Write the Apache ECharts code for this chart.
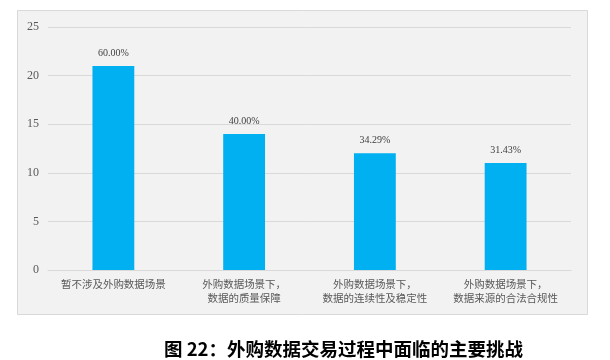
<!DOCTYPE html>
<html><head><meta charset="utf-8">
<script src="https://cdn.jsdelivr.net/npm/echarts@6/dist/echarts.min.js"></script>
<style>html,body{margin:0;padding:0;background:#fff}#c{width:610px;height:360px}</style>
</head><body><div id="c"></div>
<script>
const categories = ['暂不涉及外购数据场景', '外购数据场景下，\n数据的质量保障', '外购数据场景下，\n数据的连续性及稳定性', '外购数据场景下，\n数据来源的合法合规性'];
const values = [21, 14, 12, 11];
const percentLabels = ['60.00%', '40.00%', '34.29%', '31.43%'];
const yTicks = [0, 5, 10, 15, 20, 25];
const titleText = '图 22：外购数据交易过程中面临的主要挑战';

const chart = echarts.init(document.getElementById('c'));
chart.setOption({
  animation: false,
  backgroundColor: '#ffffff',
  graphic: [{
    type: 'rect', left: 17, top: 10, z: -10,
    shape: { width: 570, height: 304 },
    style: { fill: '#f2f2f2', stroke: '#d9d9d9', lineWidth: 1 }
  }],
  title: {
    text: titleText, left: 159, top: 334,
    textStyle: { fontFamily: 'Noto Sans CJK SC', fontWeight: 'bold', fontSize: 18.5, color: '#000', lineHeight: 20 }
  },
  grid: { left: 48, right: 39, top: 27, bottom: 90 },
  xAxis: {
    type: 'category', data: categories,
    axisLine: { lineStyle: { color: '#d9d9d9' } },
    axisTick: { show: false },
    axisLabel: { color: '#595959', fontSize: 10.5, fontFamily: 'Noto Sans CJK SC', lineHeight: 14, margin: 7, interval: 0 }
  },
  yAxis: {
    type: 'value', min: yTicks[0], max: yTicks[yTicks.length - 1], interval: 5,
    axisLine: { show: false }, axisTick: { show: false },
    splitLine: { lineStyle: { color: '#d9d9d9' } },
    axisLabel: { color: '#595959', fontSize: 12, fontFamily: 'Liberation Serif', margin: 9 }
  },
  series: [{
    type: 'bar', data: values, barWidth: '32%',
    itemStyle: { color: '#00b0f0' },
    label: {
      show: true, position: 'top', distance: 8,
      formatter: p => percentLabels[p.dataIndex],
      color: '#404040', fontSize: 10, fontFamily: 'Liberation Serif'
    }
  }]
});
</script></body></html>
